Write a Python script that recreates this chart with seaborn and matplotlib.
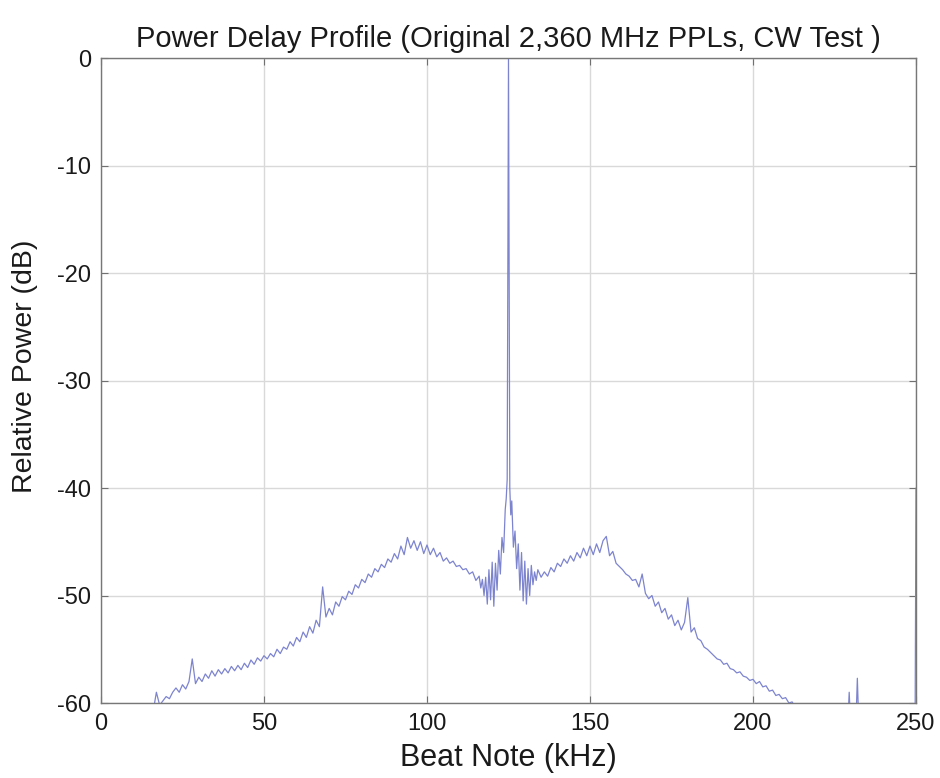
import numpy as np
import pandas as pd
import matplotlib
matplotlib.use("Agg")
import matplotlib.pyplot as plt
import seaborn as sns

# Beat-note frequency (kHz) and relative power (dB) of the measured spectrum
beat_khz = [
    14, 15, 16, 17, 18, 19, 20, 21, 22, 23, 24, 25, 26, 27, 28, 29, 30,
    31, 32, 33, 34, 35, 36, 37, 38, 39, 40, 41, 42, 43, 44, 45, 46, 47, 48, 49, 50,
    51, 52, 53, 54, 55, 56, 57, 58, 59, 60, 61, 62, 63, 64, 65, 66, 67, 68, 69, 70,
    71, 72, 73, 74, 75, 76, 77, 78, 79, 80, 81, 82, 83, 84, 85, 86, 87, 88, 89, 90,
    91, 92, 93, 94, 95, 96, 97, 98, 99, 100, 101, 102, 103, 104, 105, 106, 107, 108,
    109, 110, 111, 112, 113, 114, 115, 116, 116.5, 117, 117.5, 118, 118.5, 119, 119.5,
    120, 120.5, 121, 121.5, 122, 122.5, 123, 123.5, 124, 124.3, 124.6, 124.8, 125.0,
    125.2, 125.4, 125.7, 126.0, 126.5, 127, 127.5, 128, 128.5, 129, 129.5, 130, 130.5,
    131, 131.5, 132, 132.5, 133, 133.5, 134, 135, 136, 137, 138, 139, 140, 141, 142,
    143, 144, 145, 146, 147, 148, 149, 150, 151, 152, 153, 154, 155, 156, 157, 158,
    159, 160, 161, 162, 163, 164, 165, 166, 167, 168, 169, 170, 171, 172, 173, 174,
    175, 176, 177, 178, 179, 180, 181, 182, 183, 184, 185, 186, 187, 188, 189, 190,
    191, 192, 193, 194, 195, 196, 197, 198, 199, 200, 201, 202, 203, 204, 205, 206,
    207, 208, 209, 210, 211, 212, 213, 214, 215, 216, 220, 225, 229, 229.5, 230,
    231.5, 232, 232.5, 240, 249.7, 250,
]
rel_power_db = [
    -61.5, -61.0, -60.8, -59.0, -60.2, -59.8, -59.4, -59.6, -59.0, -58.6, -59.0, -58.3,
    -58.7, -58.0, -55.9, -58.2, -57.6,
    -58.0, -57.3, -57.7, -57.0, -57.5, -56.9, -57.3, -56.8, -57.2, -56.6, -57.0, -56.5,
    -56.9, -56.3, -56.7, -56.0, -56.4, -55.8, -56.1, -55.6,
    -55.9, -55.4, -55.7, -55.0, -55.4, -54.8, -55.0, -54.3, -54.7, -53.9, -54.3, -53.4,
    -53.9, -52.9, -53.5, -52.3, -52.9, -49.2, -52.0, -51.2,
    -51.8, -50.6, -51.0, -50.1, -50.4, -49.6, -49.9, -49.0, -49.3, -48.5, -48.8, -48.0,
    -48.3, -47.5, -47.8, -47.1, -47.4, -46.6, -46.9, -46.1,
    -46.6, -45.4, -46.2, -44.6, -45.6, -44.9, -45.8, -45.0, -46.1, -45.3, -46.2, -45.6,
    -46.4, -46.0, -46.8, -46.5, -47.0, -46.8,
    -47.3, -47.2, -47.6, -47.5, -48.0, -47.8, -48.6, -48.2, -49.3, -48.5, -50.0, -48.3,
    -50.8, -47.6, -50.4,
    -46.9, -51.0, -47.0, -49.5, -45.8, -48.0, -44.6, -46.0, -42.0, -41.0, -39.2, -20.0, 0.0,
    -20.0, -40.0, -42.5, -41.2, -45.5, -44.0, -47.5, -45.2, -49.5, -46.0, -50.5, -46.8, -50.8,
    -47.5, -50.0, -47.2, -49.0, -47.8, -48.6, -47.6, -48.3, -47.8, -48.2, -47.4, -47.8,
    -47.0, -47.3, -46.6,
    -47.0, -46.3, -46.8, -46.0, -46.5, -45.6, -46.3, -45.4, -46.2, -45.2, -46.0, -44.9,
    -44.5, -46.3, -45.9, -47.0,
    -47.3, -47.6, -48.0, -48.2, -48.6, -48.5, -49.2, -48.0, -49.8, -50.3, -50.0, -51.0,
    -50.6, -51.6, -51.2, -52.2,
    -51.8, -52.8, -52.3, -53.2, -52.5, -50.2, -53.4, -53.0, -54.0, -54.2, -54.8, -55.0,
    -55.3, -55.6, -55.9, -56.0,
    -56.4, -56.3, -56.8, -56.9, -57.2, -57.1, -57.5, -57.6, -57.9, -57.8, -58.2, -58.0,
    -58.5, -58.4, -58.9, -58.8,
    -59.3, -59.2, -59.6, -59.5, -60.0, -59.9, -60.4, -60.6, -61.0, -61.3, -62.0, -62.5,
    -62.5, -59.0, -62.5,
    -62.5, -57.7, -62.5, -63.0, -63.0, -40.0,
]

x_ticks = [0, 50, 100, 150, 200, 250]
y_ticks = [-60, -50, -40, -30, -20, -10, 0]

spectrum = pd.DataFrame({"beat": beat_khz, "power": rel_power_db})

sns.set_theme(style="white")
plt.rcParams["font.family"] = ["Liberation Sans", "DejaVu Sans"]

fig = plt.figure(figsize=(9.40, 7.78), dpi=100)
ax = fig.add_axes([0.1074, 0.0964, 0.8671, 0.8290])

ax.grid(True, color="#d9d9d9", linewidth=1.0)
ax.set_axisbelow(True)

sns.lineplot(data=spectrum, x="beat", y="power", ax=ax, color="#7d84cf",
             linewidth=0.9, estimator=None, sort=False)

ax.set_xlim(0, 250)
ax.set_ylim(-60, 0)
ax.set_xticks(x_ticks)
ax.set_yticks(y_ticks)
ax.set_xticklabels([str(t) for t in x_ticks])
ax.set_yticklabels([str(t) for t in y_ticks])
ax.tick_params(axis="both", direction="in", length=5, width=0.8, color="#707070",
               labelsize=17, labelcolor="#1a1a1a", pad=7)
ax.tick_params(top=True, right=True, bottom=True, left=True)

for side in ax.spines.values():
    side.set_color("#777777")
    side.set_linewidth(1.0)

ax.set_title("Power Delay Profile (Original 2,360 MHz PPLs, CW Test )",
             fontsize=21, color="#1a1a1a", pad=8)
ax.set_xlabel("Beat Note (kHz)", fontsize=22, color="#1a1a1a", labelpad=6)
ax.set_ylabel("Relative Power (dB)", fontsize=20.5, color="#1a1a1a")
ax.yaxis.set_label_coords(-0.077, 0.522)

fig.savefig("out.png", dpi=100, facecolor="white")
